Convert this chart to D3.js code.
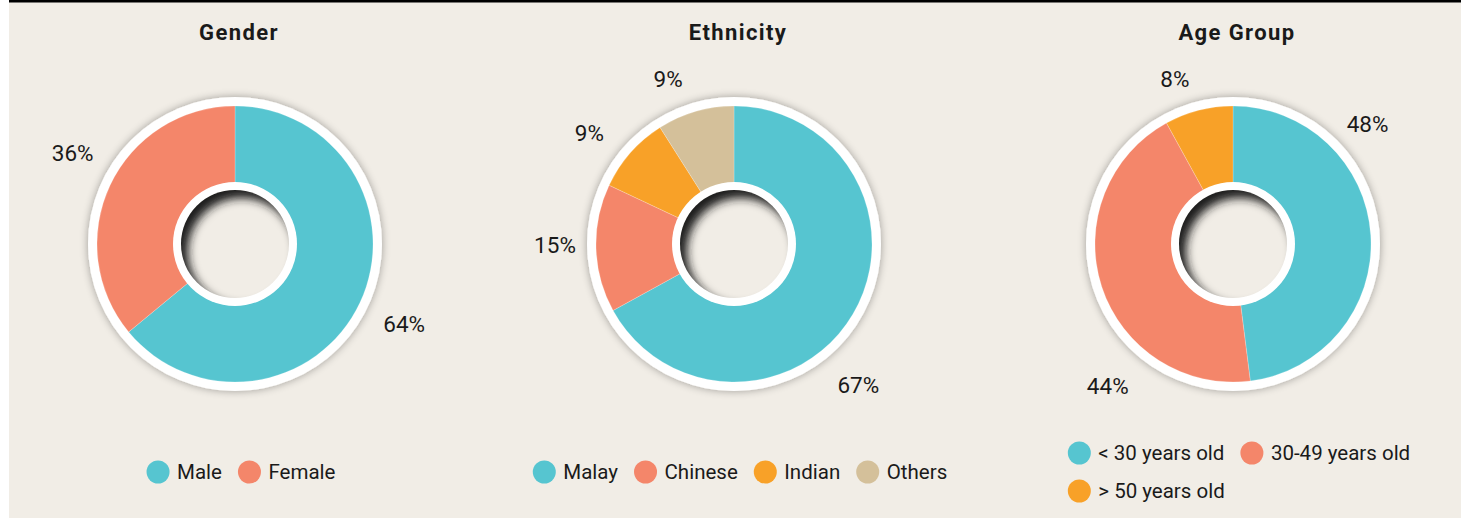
<!DOCTYPE html>
<html>
<head>
<meta charset="utf-8">
<script src="https://cdn.jsdelivr.net/npm/d3@7"></script>
<style>
  html, body { margin: 0; padding: 0; background: #ffffff; }
  svg { display: block; }
  text { font-family: Roboto, "Noto Sans", sans-serif; fill: #1a1a1a; }
</style>
</head>
<body>
<svg id="chart" width="1468" height="518"></svg>
<script>
// ---- data ----
const titles = ["Gender", "Ethnicity", "Age Group"];

const genderCategories = ["Male", "Female"];
const genderValues = [64, 36];

const ethnicityCategories = ["Malay", "Chinese", "Indian", "Others"];
const ethnicityValues = [67, 15, 9, 9];

const ageCategories = ["< 30 years old", "30-49 years old", "> 50 years old"];
const ageValues = [48, 44, 8];

const palette = ["#56c5d0", "#f4866a", "#f8a128", "#d4c09a"];

// ---- layout ----
const W = 1468, H = 518;
const centersX = [235, 734, 1233];
const centerY = 244;
const rOuterRing = 147, rOuter = 138, rInner = 61, rHole = 54;

// label placement per slice: angular shift (deg) from slice middle and radius
const labelPlacement = [
  [[0, 187], [4, 186]],
  [[18, 188], [1.5, 179], [-4, 182], [-5.5, 178]],
  [[-38, 180], [-30.5, 189], [-5, 175]]
];

const charts = [
  { title: titles[0], cats: genderCategories, vals: genderValues },
  { title: titles[1], cats: ethnicityCategories, vals: ethnicityValues },
  { title: titles[2], cats: ageCategories, vals: ageValues }
];

const svg = d3.select("#chart");
const defs = svg.append("defs");

// soft shadow around the outer white ring
const ds = defs.append("filter").attr("id", "ringShadow")
  .attr("x", "-20%").attr("y", "-20%").attr("width", "140%").attr("height", "140%");
ds.append("feGaussianBlur").attr("in", "SourceAlpha").attr("stdDeviation", 4).attr("result", "b");
ds.append("feOffset").attr("in", "b").attr("dx", 0).attr("dy", 0).attr("result", "o");
ds.append("feComponentTransfer").attr("in", "o").attr("result", "s")
  .append("feFuncA").attr("type", "linear").attr("slope", 0.35);
const m = ds.append("feMerge");
m.append("feMergeNode").attr("in", "s");
m.append("feMergeNode").attr("in", "SourceGraphic");

// blur for the hollow centre's inner shadow
defs.append("filter").attr("id", "holeBlur")
  .attr("x", "-50%").attr("y", "-50%").attr("width", "200%").attr("height", "200%")
  .append("feGaussianBlur").attr("stdDeviation", 5);

// panel background and top rule
svg.append("rect").attr("x", 9).attr("y", 0).attr("width", 1452).attr("height", H).attr("fill", "#f1ede6");
svg.append("rect").attr("x", 9).attr("y", 0).attr("width", 1452).attr("height", 2.5).attr("fill", "#000");

const color = d3.scaleOrdinal().range(palette);
const pie = d3.pie().sort(null).value(d => d);
const arc = d3.arc().innerRadius(rInner).outerRadius(rOuter);

charts.forEach((c, ci) => {
  const cx = centersX[ci];
  const g = svg.append("g").attr("transform", `translate(${cx},${centerY})`);
  color.domain(c.cats);

  // title
  svg.append("text")
    .attr("x", cx + 4).attr("y", 39.5)
    .attr("text-anchor", "middle")
    .attr("font-size", 22).attr("font-weight", 700)
    .attr("letter-spacing", 1.4)
    .text(c.title);

  // outer white ring
  g.append("circle").attr("r", rOuterRing).attr("fill", "#ffffff").attr("filter", "url(#ringShadow)");

  // slices
  const arcs = pie(c.vals);
  g.selectAll("path.slice").data(arcs).join("path")
    .attr("class", "slice")
    .attr("d", arc)
    .attr("fill", (d, i) => color(c.cats[i]))
    .attr("stroke", "#ffffff").attr("stroke-opacity", 0.35).attr("stroke-width", 0.6);

  // inner white ring and hollow centre
  g.append("circle").attr("r", rInner + 1).attr("fill", "#ffffff");
  g.append("circle").attr("r", rHole).attr("fill", "#f1ede6");

  const clipId = "hole" + ci;
  defs.append("clipPath").attr("id", clipId).append("circle").attr("cx", cx).attr("cy", centerY).attr("r", rHole);
  const sh = svg.append("g").attr("clip-path", `url(#${clipId})`);
  const ox = 7, oy = 8, big = rHole + 40;
  const p = d3.path();
  p.rect(cx - big, centerY - big, big * 2, big * 2);
  p.moveTo(cx + ox + rHole, centerY + oy);
  p.arc(cx + ox, centerY + oy, rHole, 0, Math.PI * 2, true);
  sh.append("path").attr("d", p.toString())
    .attr("fill", "#1e1e1e").attr("fill-rule", "evenodd")
    .attr("filter", "url(#holeBlur)");

  // percentage labels
  arcs.forEach((d, i) => {
    const [shift, r] = labelPlacement[ci][i];
    const a = (d.startAngle + d.endAngle) / 2 + shift * Math.PI / 180;
    svg.append("text")
      .attr("x", cx + Math.sin(a) * r)
      .attr("y", centerY - Math.cos(a) * r)
      .attr("text-anchor", "middle")
      .attr("dominant-baseline", "central")
      .attr("font-size", 22.5)
      .text(c.vals[i] + "%");
  });

  // legend (flowing rows, wrapped to a max width)
  const dotR = 11.5, dotGap = 7.5, itemGap = 16, rowH = 38, maxW = 470;
  const lg = svg.append("g");
  const items = c.cats.map((name, i) => {
    const it = lg.append("g");
    it.append("circle").attr("r", dotR).attr("cx", dotR).attr("fill", color(name));
    const t = it.append("text")
      .attr("x", dotR * 2 + dotGap)
      .attr("dominant-baseline", "central")
      .attr("font-size", 20.5)
      .text(name);
    const w = dotR * 2 + dotGap + t.node().getComputedTextLength();
    return { it, w };
  });
  const rows = [];
  let row = [], rw = 0;
  items.forEach(o => {
    const add = (row.length ? itemGap : 0) + o.w;
    if (row.length && rw + add > maxW) { rows.push({ row, rw }); row = []; rw = 0; }
    row.push(o); rw += (row.length > 1 ? itemGap : 0) + o.w;
  });
  if (row.length) rows.push({ row, rw });
  const blockW = d3.max(rows, r => r.rw);
  const x0 = cx + 6 - blockW / 2;
  const y0 = 472 - (rows.length - 1) * rowH / 2;
  rows.forEach((r, ri) => {
    let x = x0;
    r.row.forEach(o => {
      o.it.attr("transform", `translate(${x},${y0 + ri * rowH})`);
      x += o.w + itemGap;
    });
  });
});
</script>
</body>
</html>
